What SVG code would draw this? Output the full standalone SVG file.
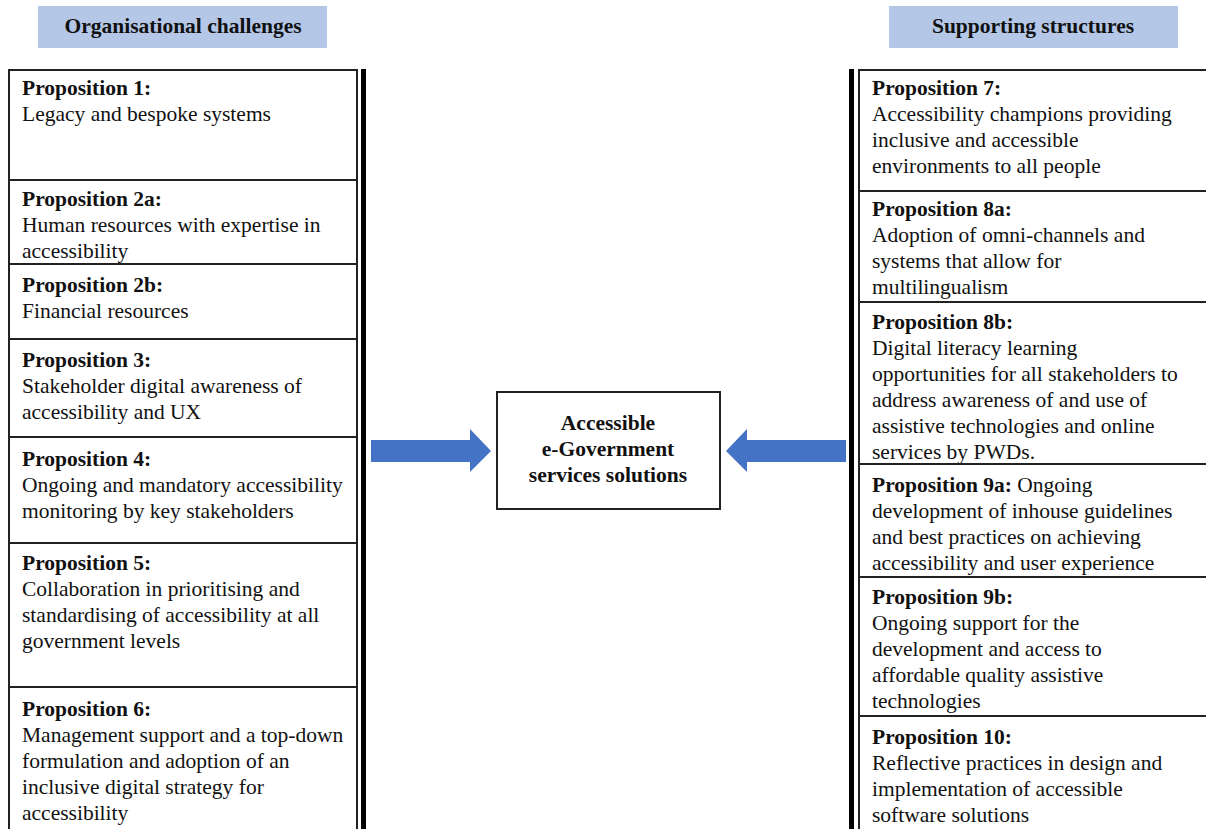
<svg xmlns="http://www.w3.org/2000/svg" width="1206" height="829" viewBox="0 0 1206 829">
<style>
text{font-family:"Liberation Serif","Times New Roman",serif;font-size:21.5px;fill:#111}
.b{font-weight:bold}
.hdr{fill:#b4c7e7}
.cell{fill:#fff;stroke:#222;stroke-width:2}
.bar{fill:#000}
.arrow{fill:#4472c4}
.c{text-anchor:middle}
</style>
<rect width="1206" height="829" fill="#fff"/>
<g id="header-left"><rect class="hdr" x="38" y="6" width="289" height="42"/><text class="b c" x="183" y="33">Organisational challenges</text></g>
<g id="header-right"><rect class="hdr" x="889" y="6" width="289" height="42"/><text class="b c" x="1033" y="33">Supporting structures</text></g>
<rect class="bar" x="361" y="69" width="5" height="760"/>
<rect class="bar" x="849" y="69" width="5" height="760"/>
<g id="p1"><rect class="cell" x="9" y="70" width="348" height="110"/><text x="22" y="95"><tspan class="b">Proposition 1:</tspan><tspan x="22" dy="26">Legacy and bespoke systems</tspan></text></g>
<g id="p2a"><rect class="cell" x="9" y="180" width="348" height="84"/><text x="22" y="206"><tspan class="b">Proposition 2a:</tspan><tspan x="22" dy="26">Human resources with expertise in</tspan><tspan x="22" dy="26">accessibility</tspan></text></g>
<g id="p2b"><rect class="cell" x="9" y="264" width="348" height="75"/><text x="22" y="292"><tspan class="b">Proposition 2b:</tspan><tspan x="22" dy="26">Financial resources</tspan></text></g>
<g id="p3"><rect class="cell" x="9" y="339" width="348" height="98"/><text x="22" y="367"><tspan class="b">Proposition 3:</tspan><tspan x="22" dy="26">Stakeholder digital awareness of</tspan><tspan x="22" dy="26">accessibility and UX</tspan></text></g>
<g id="p4"><rect class="cell" x="9" y="437" width="348" height="106"/><text x="22" y="466"><tspan class="b">Proposition 4:</tspan><tspan x="22" dy="26">Ongoing and mandatory accessibility</tspan><tspan x="22" dy="26">monitoring by key stakeholders</tspan></text></g>
<g id="p5"><rect class="cell" x="9" y="543" width="348" height="144"/><text x="22" y="570"><tspan class="b">Proposition 5:</tspan><tspan x="22" dy="26">Collaboration in prioritising and</tspan><tspan x="22" dy="26">standardising of accessibility at all</tspan><tspan x="22" dy="26">government levels</tspan></text></g>
<g id="p6"><rect class="cell" x="9" y="687" width="348" height="150"/><text x="22" y="716"><tspan class="b">Proposition 6:</tspan><tspan x="22" dy="26">Management support and a top-down</tspan><tspan x="22" dy="26">formulation and adoption of an</tspan><tspan x="22" dy="26">inclusive digital strategy for</tspan><tspan x="22" dy="26">accessibility</tspan></text></g>
<g id="p7"><rect class="cell" x="859" y="70" width="360" height="121"/><text x="872" y="95"><tspan class="b">Proposition 7:</tspan><tspan x="872" dy="26">Accessibility champions providing</tspan><tspan x="872" dy="26">inclusive and accessible</tspan><tspan x="872" dy="26">environments to all people</tspan></text></g>
<g id="p8a"><rect class="cell" x="859" y="191" width="360" height="111"/><text x="872" y="216"><tspan class="b">Proposition 8a:</tspan><tspan x="872" dy="26">Adoption of omni-channels and</tspan><tspan x="872" dy="26">systems that allow for</tspan><tspan x="872" dy="26">multilingualism</tspan></text></g>
<g id="p8b"><rect class="cell" x="859" y="302" width="360" height="162"/><text x="872" y="329"><tspan class="b">Proposition 8b:</tspan><tspan x="872" dy="26">Digital literacy learning</tspan><tspan x="872" dy="26">opportunities for all stakeholders to</tspan><tspan x="872" dy="26">address awareness of and use of</tspan><tspan x="872" dy="26">assistive technologies and online</tspan><tspan x="872" dy="26">services by PWDs.</tspan></text></g>
<g id="p9a"><rect class="cell" x="859" y="464" width="360" height="113"/><text x="872" y="492"><tspan class="b">Proposition 9a:</tspan> Ongoing<tspan x="872" dy="26">development of inhouse guidelines</tspan><tspan x="872" dy="26">and best practices on achieving</tspan><tspan x="872" dy="26">accessibility and user experience</tspan></text></g>
<g id="p9b"><rect class="cell" x="859" y="577" width="360" height="139"/><text x="872" y="604"><tspan class="b">Proposition 9b:</tspan><tspan x="872" dy="26">Ongoing support for the</tspan><tspan x="872" dy="26">development and access to</tspan><tspan x="872" dy="26">affordable quality assistive</tspan><tspan x="872" dy="26">technologies</tspan></text></g>
<g id="p10"><rect class="cell" x="859" y="716" width="360" height="130"/><text x="872" y="744"><tspan class="b">Proposition 10:</tspan><tspan x="872" dy="26">Reflective practices in design and</tspan><tspan x="872" dy="26">implementation of accessible</tspan><tspan x="872" dy="26">software solutions</tspan></text></g>
<g id="center"><rect class="cell" x="497" y="392" width="223" height="117" stroke-width="1.5"/><text class="b c" x="608" y="430">Accessible</text><text class="b c" x="608" y="456">e-Government</text><text class="b c" x="608" y="482">services solutions</text></g>
<g id="connectors">
<polygon class="arrow" points="371,440 470,440 470,429 491,451 470,472 470,462 371,462"/>
<polygon class="arrow" points="846,440 747,440 747,429 726,451 747,472 747,462 846,462"/>
</g>
</svg>
